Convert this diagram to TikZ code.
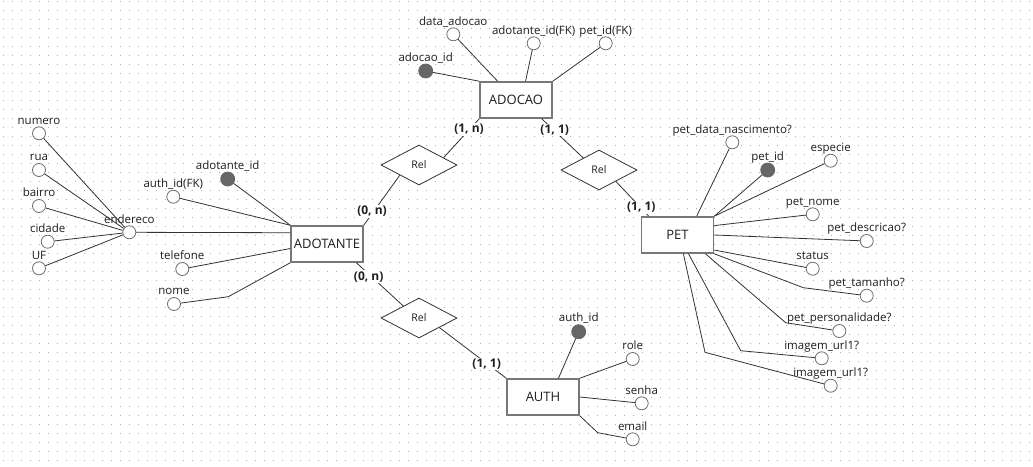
\documentclass[tikz,border=0pt]{standalone}
\usepackage{fontspec}
\setmainfont{Open Sans}
\usetikzlibrary{shapes.geometric,calc}
\definecolor{ink}{HTML}{1E1E1E}
\definecolor{edgecol}{HTML}{333333}
\definecolor{frame}{HTML}{777777}
\definecolor{ring}{HTML}{6E6E6E}
\definecolor{keyfill}{HTML}{666666}
\definecolor{dotcol}{HTML}{B0B0B0}
\tikzset{
  entity/.style={rectangle, draw=frame, line width=1.6pt, fill=white,
    minimum width=72pt, minimum height=36pt, inner sep=0pt,
    font=\fontsize{13}{15}\selectfont, text=ink},
  rel/.style={diamond, draw=edgecol, line width=0.8pt, fill=white, aspect=1.9,
    minimum width=76pt, minimum height=40pt, inner sep=0pt,
    font=\fontsize{10.5}{12}\selectfont, text=ink},
  lbl/.style={font=\fontsize{11.5}{13}\selectfont, text=ink, inner sep=0pt,
    text height=8pt, text depth=3pt},
  attr/.style={circle, draw=ring, line width=0.8pt, fill=white,
    minimum size=13pt, inner sep=0pt, label={[lbl, label distance=-0.8pt]90:#1}},
  key/.style={circle, draw=keyfill, fill=keyfill, line width=0.8pt,
    minimum size=14pt, inner sep=0pt, label={[lbl, label distance=-0.8pt]90:#1}},
  card/.style={font=\bfseries\fontsize{12}{14}\selectfont, text=ink,
    fill=white, inner sep=1pt},
  link/.style={draw=edgecol, line width=0.8pt},
  griddots/.style={draw=dotcol, line width=1pt, dash pattern=on 1pt off 8pt}
}
\begin{document}
\begin{tikzpicture}[x=1pt, y=-1pt]
\useasboundingbox (0,0) rectangle (1033,466);
\fill[white] (0,0) rectangle (1033,466);
% dotted background grid
\foreach \j in {0,...,51}
  \draw[griddots] (2.8,1.5+9*\j) -- (1033,1.5+9*\j);

% entities
\node[entity] (adocao)   at (516,100)   {ADOCAO};
\node[entity] (adotante) at (327,244)   {ADOTANTE};
\node[entity] (pet)      at (677.5,235) {PET};
\node[entity] (auth)     at (543,397)   {AUTH};

% relationships
\node[rel] (rel1) at (419,165) {Rel};
\node[rel] (rel2) at (599,170) {Rel};
\node[rel] (rel3) at (419,318) {Rel};

% ADOCAO attributes
\node[key=adocao\_id]          (adocaoid)   at (425.7,71)   {};
\node[attr=data\_adocao]       (dataadocao) at (453.3,34.3) {};
\node[attr=adotante\_id(FK)]   (adotfk)     at (533.7,43.3) {};
\node[attr=pet\_id(FK)]        (petfk)      at (605.7,43.3) {};

% ADOTANTE attributes
\node[key=adotante\_id]        (adotid)     at (227.7,179)   {};
\node[attr=auth\_id(FK)]       (authfk)     at (173.3,196.7) {};
\node[attr=endereco]           (endereco)   at (129.3,232.3) {};
\node[attr=telefone]           (telefone)   at (182.3,269)   {};
\node[attr=nome]               (nome)       at (174,304)     {};
\node[attr=numero]             (numero)     at (39,133.3)    {};
\node[attr=rua]                (rua)        at (39,170)      {};
\node[attr=bairro]             (bairro)     at (39,206)      {};
\node[attr=cidade]             (cidade)     at (47.7,241.7)  {};
\node[attr=UF]                 (uf)         at (39,268.3)    {};

% PET attributes
\node[attr=pet\_data\_nascimento?] (petnasc)  at (732.3,142.3) {};
\node[key=pet\_id]                 (petid)    at (767.7,170)   {};
\node[attr=especie]                (especie)  at (830.7,160.7) {};
\node[attr=pet\_nome]              (petnome)  at (812.7,214.3) {};
\node[attr=pet\_descricao?]        (petdesc)  at (866.7,241)   {};
\node[attr=status]                 (status)   at (812.7,268.7) {};
\node[attr=pet\_tamanho?]          (pettam)   at (866.7,295.7) {};
\node[attr=pet\_personalidade?]    (petpers)  at (839.3,331)   {};
\node[attr=imagem\_url1?]          (imgA)     at (821.7,358.3) {};
\node[attr=imagem\_url1?]          (imgB)     at (830.7,385.7) {};

% AUTH attributes
\node[key=auth\_id]  (authid) at (578.7,331.7) {};
\node[attr=role]     (role)   at (632.7,359)   {};
\node[attr=senha]    (senha)  at (641.7,403.3) {};
\node[attr=email]    (email)  at (632.7,439.3) {};

% bend points of routed attribute links
\coordinate (nomebend)  at (228.3,296.7);
\coordinate (tambend)   at (803.3,287.7);
\coordinate (persbend)  at (785.7,322.7);
\coordinate (imgAbend)  at (740.7,350.7);
\coordinate (imgBbend)  at (705,352.3);
\coordinate (emailbend) at (597.7,432.7);

% ADOCAO links
\draw[link] (adocaoid) -- (adocao.north west);
\draw[link] (dataadocao) -- ($(adocao.north west)!0.25!(adocao.north east)$);
\draw[link] (adotfk) -- ($(adocao.north west)!0.63!(adocao.north east)$);
\draw[link] (petfk) -- (adocao.north east);

% ADOTANTE links
\draw[link] (adotid) -- (adotante.north west);
\draw[link] (authfk) -- (adotante.north west);
\draw[link] (endereco) -- ($(adotante.north west)!0.2!(adotante.south west)$);
\draw[link] (telefone) -- ($(adotante.north west)!0.62!(adotante.south west)$);
\draw[link] (nome) -- (nomebend) -- (adotante.south west);
\foreach \s in {numero,rua,bairro,cidade,uf}
  \draw[link] (\s) -- (endereco);

% PET links
\draw[link] (petnasc) -- ($(pet.north west)!0.76!(pet.north east)$);
\draw[link] (petid) -- (pet.north east);
\draw[link] (especie) -- (pet.north east);
\draw[link] (petnome) -- ($(pet.north east)!0.25!(pet.south east)$);
\draw[link] (petdesc) -- (pet.east);
\draw[link] (status) -- ($(pet.north east)!0.9!(pet.south east)$);
\draw[link] (pettam) -- (tambend) -- (pet.south east);
\draw[link] (petpers) -- (persbend) -- ($(pet.south west)!0.88!(pet.south east)$);
\draw[link] (imgA) -- (imgAbend) -- ($(pet.south west)!0.65!(pet.south east)$);
\draw[link] (imgB) -- (imgBbend) -- ($(pet.south west)!0.58!(pet.south east)$);

% AUTH links
\draw[link] (authid) -- ($(auth.north west)!0.71!(auth.north east)$);
\draw[link] (role) -- (auth.north east);
\draw[link] (senha) -- (auth.east);
\draw[link] (email) -- (emailbend) -- (auth.south east);

% relationship links
\draw[link] (adocao.south west) -- ($(rel1.north)!0.64!(rel1.east)$);
\draw[link] (rel1.south west) -- (adotante.north east);
\draw[link] ($(adocao.south west)!0.85!(adocao.south east)$) -- ($(rel2.north)!0.41!(rel2.west)$);
\draw[link] ($(rel2.south)!0.44!(rel2.east)$) -- ($(pet.north west)!0.11!(pet.north east)$);
\draw[link] ($(adotante.south west)!0.9!(adotante.south east)$) -- ($(rel3.north)!0.41!(rel3.west)$);
\draw[link] ($(rel3.south)!0.53!(rel3.east)$) -- (auth.north west);

% cardinalities
\node[card] (c1) at (469,129.5)   {(1, n)};
\node[card] (c2) at (554.7,130)   {(1, 1)};
\node[card] (c3) at (372,211.3)   {(0, n)};
\node[card] (c4) at (641.3,207.5) {(1, 1)};
\node[card] (c5) at (368.7,276.7) {(0, n)};
\node[card] (c6) at (486.7,364.2) {(1, 1)};
\end{tikzpicture}
\end{document}
